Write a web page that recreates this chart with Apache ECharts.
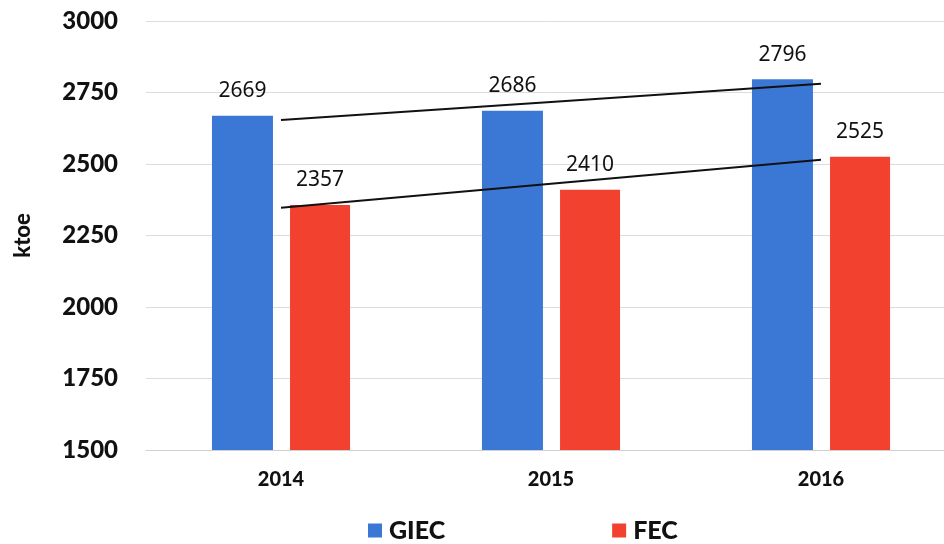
<!DOCTYPE html>
<html>
<head>
<meta charset="utf-8">
<script src="https://cdn.jsdelivr.net/npm/echarts@6/dist/echarts.min.js"></script>
<style>
  html, body { margin: 0; padding: 0; background: #fff; }
  #chart { width: 944px; height: 544px; }
</style>
</head>
<body>
<div id="chart"></div>
<script>
// Energy consumption by year (ktoe)
const years = ['2014', '2015', '2016'];
const giec = [2669, 2686, 2796];
const fec = [2357, 2410, 2525];
const yTicks = { min: 1500, max: 3000, step: 250 };

// Least-squares linear trend through a series, evaluated at each category
function linearTrend(values) {
  const n = values.length;
  const xs = values.map((_, i) => i);
  const mx = xs.reduce((a, b) => a + b, 0) / n;
  const my = values.reduce((a, b) => a + b, 0) / n;
  let num = 0, den = 0;
  xs.forEach((x, i) => { num += (x - mx) * (values[i] - my); den += (x - mx) * (x - mx); });
  const slope = num / den;
  return xs.map(x => my + slope * (x - mx));
}

const labelFont = '"Noto Sans", sans-serif';
const axisFont = 'Lato, "Open Sans", sans-serif';

const chart = echarts.init(document.getElementById('chart'), null, { renderer: 'canvas' });

const valueLabel = {
  show: true,
  position: 'top',
  distance: 14,
  color: '#111',
  fontFamily: labelFont,
  fontSize: 21
};

chart.setOption({
  animation: false,
  backgroundColor: '#fff',
  grid: {
    left: 146, top: 21, width: 810, height: 429,
    containLabel: false,
    outerBoundsMode: 'none'
  },
  legend: {
    left: 363,
    top: 513,
    itemWidth: 14,
    itemHeight: 14,
    itemGap: 167,
    icon: 'rect',
    data: ['GIEC', 'FEC'],
    textStyle: { fontFamily: axisFont, fontWeight: 900, fontSize: 25, color: '#111', padding: [0, 0, 0, 2] }
  },
  xAxis: {
    type: 'category',
    data: years,
    axisTick: { show: false },
    axisLine: { show: true, lineStyle: { color: '#d0d0d0', width: 1 } },
    axisLabel: { margin: 20, fontFamily: axisFont, fontWeight: 900, fontSize: 20, color: '#111' }
  },
  yAxis: {
    type: 'value',
    min: yTicks.min,
    max: yTicks.max,
    interval: yTicks.step,
    name: 'ktoe',
    nameLocation: 'middle',
    nameGap: 112,
    nameRotate: 90,
    nameTextStyle: { fontFamily: axisFont, fontWeight: 900, fontSize: 22, color: '#111' },
    axisLine: { show: false },
    axisTick: { show: false },
    axisLabel: {
      margin: 28,
      formatter: v => String(v),
      fontFamily: axisFont, fontWeight: 900, fontSize: 24, color: '#111'
    },
    splitLine: { lineStyle: { color: '#dcdcdc', width: 1 } }
  },
  series: [
    {
      name: 'GIEC',
      type: 'bar',
      data: giec,
      barWidth: 61,
      barGap: '28%',
      itemStyle: { color: '#3b78d6' },
      label: valueLabel
    },
    {
      name: 'FEC',
      type: 'bar',
      data: fec,
      barWidth: 60,
      itemStyle: { color: '#f2412f' },
      label: valueLabel
    },
    {
      name: 'GIEC trend',
      type: 'line',
      data: linearTrend(giec),
      symbol: 'none',
      silent: true,
      lineStyle: { color: '#111', width: 2 },
      z: 5
    },
    {
      name: 'FEC trend',
      type: 'line',
      data: linearTrend(fec),
      symbol: 'none',
      silent: true,
      lineStyle: { color: '#111', width: 2 },
      z: 5
    }
  ]
});
</script>
</body>
</html>
